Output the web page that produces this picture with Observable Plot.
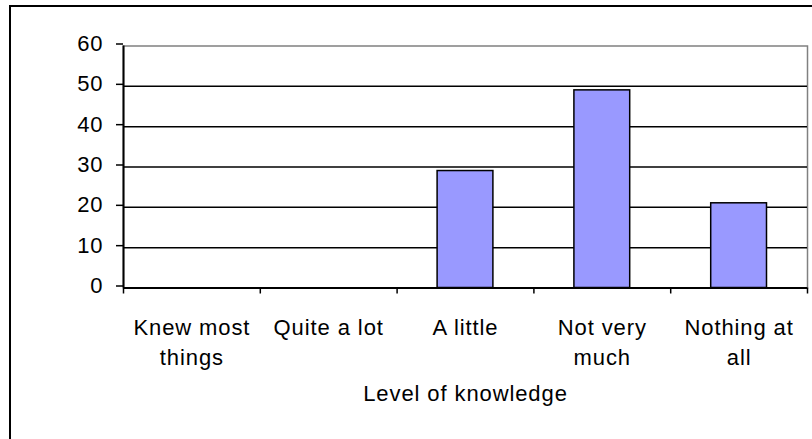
<!DOCTYPE html>
<html>
<head>
<meta charset="utf-8">
<script src="https://cdn.jsdelivr.net/npm/d3@7"></script>
<script src="https://cdn.jsdelivr.net/npm/@observablehq/plot@0.6"></script>
<style>
  html, body { margin: 0; padding: 0; background: #fff; overflow: hidden; width: 812px; height: 439px; }
  #frame { position: absolute; left: 9px; top: 5px; width: 1000px; height: 1000px; border: 2px solid #000; box-sizing: border-box; }
  #chart { position: absolute; left: 0; top: 0; }
</style>
</head>
<body>
<div id="frame"></div>
<div id="chart"></div>
<script>
const categories = ["Knew most\nthings", "Quite a lot", "A little", "Not very\nmuch", "Nothing at\nall"];
const values = [0, 0, 29, 49, 21];
const yTicks = [0, 10, 20, 30, 40, 50, 60];
const gridValues = [10, 20, 30, 40, 50];
const xTitle = "Level of knowledge";

const data = categories.map((c, i) => ({i, label: c, value: values[i]}));
const boundaries = d3.range(categories.length + 1);

const font = "'Liberation Sans', Arial, sans-serif";

const chart = Plot.plot({
  width: 812,
  height: 439,
  marginLeft: 123,
  marginRight: 5,
  marginTop: 45.5,
  marginBottom: 151.5,
  style: {fontFamily: font, fontSize: "22px", letterSpacing: "0.9px", background: "transparent", overflow: "visible"},
  x: {type: "linear", domain: [0, categories.length]},
  y: {domain: [0, 60]},
  marks: [
    Plot.frame({stroke: "#808080", strokeWidth: 1.5}),
    Plot.ruleY(gridValues, {stroke: "#000", strokeWidth: 1.5}),
    Plot.rectY(data.filter(d => d.value > 0), {
      x1: d => d.i, x2: d => d.i + 1, y: "value",
      insetLeft: 40.5, insetRight: 40.5,
      fill: "#9999FF", stroke: "#000", strokeWidth: 1.5
    }),
    Plot.ruleY([0], {stroke: "#000", strokeWidth: 2}),
    Plot.ruleX([0], {stroke: "#000", strokeWidth: 2}),
    Plot.axisY({ticks: yTicks, tickSize: 7, tickPadding: 13, label: null, fontSize: 22, dy: -2, strokeWidth: 1.5, stroke: "#000"}),
    Plot.axisX({ticks: boundaries, tickSize: 6, tickFormat: () => "", label: null, strokeWidth: 1.5, stroke: "#000"}),
    Plot.text(data, {
      x: d => d.i + 0.5, y: () => 0, text: "label",
      lineAnchor: "top", dy: 25.5, lineHeight: 1.36, fontSize: 22, fill: "#000"
    }),
    Plot.text([xTitle], {
      frameAnchor: "bottom", text: d => d, lineAnchor: "top", dy: 97, fontSize: 22, fill: "#000"
    })
  ]
});
document.getElementById("chart").appendChild(chart);
</script>
</body>
</html>
